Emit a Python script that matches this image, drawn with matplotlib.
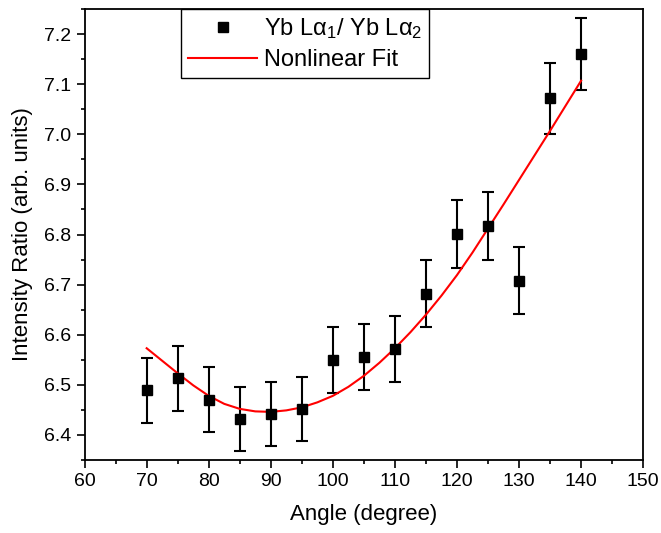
import numpy as np
import matplotlib
matplotlib.use('Agg')
import matplotlib.pyplot as plt
from matplotlib.lines import Line2D

plt.rcParams['font.family'] = ['Liberation Sans', 'DejaVu Sans']
plt.rcParams['mathtext.fontset'] = 'custom'
plt.rcParams['mathtext.rm'] = 'Liberation Sans'
plt.rcParams['mathtext.it'] = 'Liberation Sans'

# measured ratio with error bars
angle = [70, 75, 80, 85, 90, 95, 100, 105, 110, 115, 120, 125, 130, 135, 140]
ratio = [6.489, 6.513, 6.470, 6.432, 6.441, 6.451, 6.550, 6.556, 6.572,
         6.682, 6.801, 6.817, 6.708, 7.072, 7.161]
ratio_err = [0.065, 0.065, 0.065, 0.064, 0.064, 0.064, 0.066, 0.066, 0.066,
             0.067, 0.068, 0.068, 0.067, 0.071, 0.072]

# nonlinear fit curve, every 2.5 degrees
fit_angle = [70, 72.5, 75, 77.5, 80, 82.5, 85, 87.5, 90, 92.5, 95, 97.5, 100,
             102.5, 105, 107.5, 110, 112.5, 115, 117.5, 120, 122.5, 125,
             127.5, 130, 132.5, 135, 137.5, 140]
fit_ratio = [6.573, 6.548, 6.523, 6.499, 6.478, 6.462, 6.452, 6.447, 6.446,
             6.449, 6.455, 6.465, 6.478, 6.496, 6.518, 6.544, 6.573, 6.605,
             6.640, 6.678, 6.719, 6.764, 6.812, 6.860, 6.909, 6.958, 7.007,
             7.057, 7.107]

fig = plt.figure(figsize=(6.61, 5.33), dpi=100)
ax = fig.add_axes([0.128, 0.137, 0.845, 0.846])

ax.errorbar(angle, ratio, yerr=ratio_err, fmt='s', color='black', ms=7,
            ecolor='black', elinewidth=1.5, capsize=4, capthick=1.5)
ax.plot(fit_angle, fit_ratio, color='red', lw=1.5)

ax.set_xlim(60, 150)
ax.set_ylim(6.35, 7.25)
ax.set_xticks(np.arange(60, 151, 10))
ax.set_xticks(np.arange(65, 150, 10), minor=True)
ax.set_yticks(np.arange(6.4, 7.21, 0.1))
ax.set_yticks(np.arange(6.35, 7.25, 0.1), minor=True)
ax.yaxis.set_major_formatter(matplotlib.ticker.FormatStrFormatter('%.1f'))
ax.tick_params(which='both', direction='out', top=False, right=False,
               labelsize=14, width=1.2)
ax.tick_params(which='major', length=6)
ax.tick_params(which='minor', length=3)
for s in ax.spines.values():
    s.set_linewidth(1.3)

ax.set_xlabel('Angle (degree)', fontsize=16, labelpad=10)
ax.set_ylabel('Intensity Ratio (arb. units)', fontsize=16, labelpad=8)

# legend: plain square marker and red line
handles = [Line2D([], [], ls='none', marker='s', color='black', ms=7),
           Line2D([], [], color='red', lw=1.5)]
labels = ['Yb Lα$_1$/ Yb Lα$_2$', 'Nonlinear Fit']
leg = ax.legend(handles, labels, loc='upper center', bbox_to_anchor=(0.395, 1.0),
                borderaxespad=0, fontsize=17, frameon=True, fancybox=False,
                edgecolor='black', framealpha=1, borderpad=0.3,
                labelspacing=0.35, handlelength=2.9, handletextpad=0.3)
leg.get_frame().set_linewidth(1.0)

fig.savefig('out.png', dpi=100)
